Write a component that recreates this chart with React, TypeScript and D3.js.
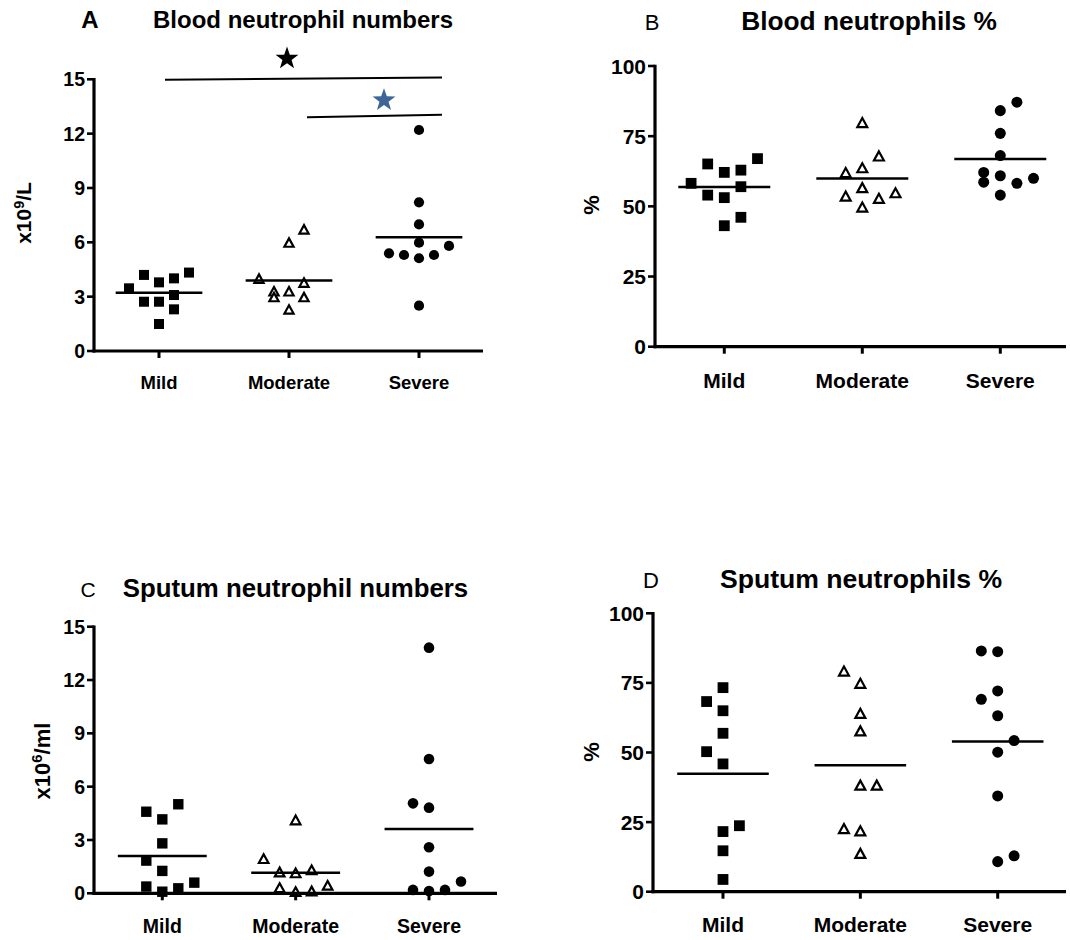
import React from "react";
import * as d3 from "d3";

// ---------- DATA ----------
const categories = ["Mild", "Moderate", "Severe"];

// A: Blood neutrophil numbers (x10^9/L)
const bloodCountMild = [3.46, 4.2, 3.79, 4.01, 4.33, 3.09, 2.72, 2.72, 2.3, 1.49];
const bloodCountModerate = [3.96, 3.26, 2.94, 3.26, 3.74, 2.94, 2.26, 5.95, 6.68];
const bloodCountSevere = [12.2, 8.21, 6.99, 5.98, 5.39, 5.3, 5.12, 5.3, 5.8, 2.5];
const bloodCountTicks = [0, 3, 6, 9, 12, 15];

// B: Blood neutrophils %
const bloodPctMild = [58.2, 65.1, 62.1, 62.9, 67.0, 54.0, 53.1, 57.0, 46.1, 43.1];
const bloodPctModerate = [79.6, 67.7, 63.5, 61.8, 56.4, 53.4, 52.6, 54.6, 49.5];
const bloodPctSevere = [87.1, 84.1, 76.0, 68.1, 62.1, 60.9, 58.6, 58.2, 60.0, 54.0];
const pctTicks = [0, 25, 50, 75, 100];

// C: Sputum neutrophil numbers (x10^6/ml)
const sputumCountMild = [4.59, 4.16, 5.01, 2.81, 1.84, 1.26, 0.38, 0.09, 0.28, 0.6];
const sputumCountModerate = [4.09, 1.91, 1.16, 1.11, 1.28, 0.28, 0.06, 0.09, 0.41];
const sputumCountSevere = [13.82, 7.56, 5.06, 4.82, 2.59, 1.22, 0.19, 0.13, 0.19, 0.66];
const sputumCountTicks = [0, 3, 6, 9, 12, 15];

// D: Sputum neutrophils %
const sputumPctMild = [73.3, 68.3, 65.0, 56.9, 50.3, 45.9, 23.7, 21.6, 14.7, 4.4];
const sputumPctModerate = [79.0, 74.6, 63.8, 57.5, 38.0, 38.0, 22.4, 21.6, 13.5];
const sputumPctSevere = [86.5, 86.2, 69.1, 72.1, 63.2, 54.3, 50.1, 34.4, 10.8, 12.9];

// Significance annotations in panel A
const sigLines = [
  { from: "Mild", to: "Severe", y0: 14.97, y1: 15.1, star: 16.2, color: "#000000" },
  { from: "Moderate", to: "Severe", y0: 12.9, y1: 13.04, star: 13.9, color: "#3d6597" },
];

// ---------- LAYOUT (horizontal spread columns) ----------
const spreadA = [
  [-2, -1, 0, 1, 2, 1, -1, 0, 1, 0],
  [-2, -1, -1, 0, 1, 1, 0, 0, 1],
  [0, 0, 0, 0, -2, -1, 0, 1, 2, 0],
];
const spreadB = [
  [-2, -1, 0, 1, 2, -1, 0, 1, 1, 0],
  [0, 1, 0, -1, 0, -1, 1, 2, 0],
  [1, 0, 0, 0, -1, 0, -1, 1, 2, 0],
];
const spreadC = [
  [-1, 0, 1, 0, -1, 0, -1, 0, 1, 2],
  [0, -2, -1, 0, 1, -1, 0, 1, 2],
  [0, 0, -1, 0, 0, 0, -1, 0, 1, 2],
];
const spreadD = [
  [0, -1, 0, 0, -1, 0, 1, 0, 0, 0],
  [-1, 0, 0, 0, 0, 1, -1, 0, 0],
  [-1, 0, -1, 0, 0, 1, 0, 0, 0, 1],
];

const FONT = "'Liberation Sans', Arial, Helvetica, sans-serif";

type Panel = {
  letter: string;
  letterBold: boolean;
  letterX: number;
  letterSize: number;
  title: string;
  titleX: number;
  titleY: number;
  titleSize: number;
  axisX: number;
  yTop: number;
  yBot: number;
  xEnd: number;
  firstCat: number;
  lastCat: number;
  step: number;
  ticks: number[];
  yMax: number;
  tickSize: number;
  catSize: number;
  catY: number;
  yLabel: React.ReactNode;
  yLabelX: number;
  yLabelY: number;
  yLabelSize: number;
  groups: number[][];
  spread: number[][];
  markerScale: number;
  sig?: boolean;
};

const supLabel = (base: string, sup: string, rest: string) => (
  <>
    {base}
    <tspan fontSize="0.68em" dy="-0.5em">{sup}</tspan>
    <tspan dy="0.34em">{rest}</tspan>
  </>
);

const panels: Panel[] = [
  {
    letter: "A", letterBold: true, letterX: 90, letterSize: 24,
    title: "Blood neutrophil numbers", titleX: 303, titleY: 27.5, titleSize: 24,
    axisX: 94, yTop: 79.3, yBot: 351, xEnd: 483, firstCat: 159, lastCat: 419, step: 15,
    ticks: bloodCountTicks, yMax: 15, tickSize: 19.5, catSize: 18.5, catY: 388.5,
    yLabel: supLabel("x10", "9", "/L"), yLabelX: 31, yLabelY: 213, yLabelSize: 21,
    groups: [bloodCountMild, bloodCountModerate, bloodCountSevere], spread: spreadA,
    markerScale: 1, sig: true,
  },
  {
    letter: "B", letterBold: false, letterX: 652, letterSize: 22,
    title: "Blood neutrophils %", titleX: 869, titleY: 30, titleSize: 26.3,
    axisX: 655, yTop: 66, yBot: 346.7, xEnd: 1066, firstCat: 724.3, lastCat: 1000.3, step: 16.6,
    ticks: pctTicks, yMax: 100, tickSize: 21, catSize: 21, catY: 388.3,
    yLabel: "%", yLabelX: 599, yLabelY: 205, yLabelSize: 22,
    groups: [bloodPctMild, bloodPctModerate, bloodPctSevere], spread: spreadB,
    markerScale: 1.08,
  },
  {
    letter: "C", letterBold: false, letterX: 88, letterSize: 21,
    title: "Sputum neutrophil numbers", titleX: 295.5, titleY: 597, titleSize: 25.8,
    axisX: 94, yTop: 626.7, yBot: 893.3, xEnd: 497, firstCat: 162.3, lastCat: 429, step: 16,
    ticks: sputumCountTicks, yMax: 15, tickSize: 19.5, catSize: 19.5, catY: 933,
    yLabel: supLabel("x10", "6", "/ml"), yLabelX: 49.5, yLabelY: 761, yLabelSize: 22,
    groups: [sputumCountMild, sputumCountModerate, sputumCountSevere], spread: spreadC,
    markerScale: 1.04,
  },
  {
    letter: "D", letterBold: false, letterX: 651, letterSize: 22,
    title: "Sputum neutrophils %", titleX: 861, titleY: 588, titleSize: 26.6,
    axisX: 653, yTop: 613.3, yBot: 891.7, xEnd: 1066, firstCat: 723, lastCat: 997.7, step: 16.4,
    ticks: pctTicks, yMax: 100, tickSize: 21, catSize: 21, catY: 931.5,
    yLabel: "%", yLabelX: 599, yLabelY: 752, yLabelSize: 22,
    groups: [sputumPctMild, sputumPctModerate, sputumPctSevere], spread: spreadD,
    markerScale: 1.08,
  },
];

function starPath(cx: number, cy: number, R: number) {
  const r = R * 0.4;
  const pts: string[] = [];
  for (let i = 0; i < 10; i++) {
    const a = -Math.PI / 2 + (i * Math.PI) / 5;
    const rad = i % 2 === 0 ? R : r;
    pts.push(`${cx + rad * Math.cos(a)},${cy + rad * Math.sin(a)}`);
  }
  return "M" + pts.join("L") + "Z";
}

function Marker({ kind, x, y, s }: { kind: number; x: number; y: number; s: number }) {
  if (kind === 0) {
    const w = 10 * s;
    return <rect x={x - w / 2} y={y - w / 2} width={w} height={w} fill="#000" />;
  }
  if (kind === 1) {
    const w = 9.2 * s;
    const h = 8.4 * s;
    const d = `M${x},${y - h * 0.58}L${x + w / 2},${y + h * 0.42}L${x - w / 2},${y + h * 0.42}Z`;
    return <path d={d} fill="#fff" stroke="#000" strokeWidth={2.2} strokeLinejoin="miter" />;
  }
  return <circle cx={x} cy={y} r={5.1 * s} fill="#000" />;
}

function PanelView({ p }: { p: Panel }) {
  const y = d3.scaleLinear().domain([0, p.yMax]).range([p.yBot, p.yTop]);
  const x = d3.scalePoint<string>().domain(categories).range([p.firstCat, p.lastCat]);
  const spacing = (p.lastCat - p.firstCat) / 2;
  const half = spacing / 3;
  return (
    <g fontFamily={FONT}>
      <text x={p.letterX} y={p.titleY} textAnchor="middle" fontSize={p.letterSize}
        fontWeight={p.letterBold ? "bold" : "normal"}>{p.letter}</text>
      <text x={p.titleX} y={p.titleY} textAnchor="middle" fontSize={p.titleSize} fontWeight="bold">{p.title}</text>

      <text transform={`translate(${p.yLabelX},${p.yLabelY}) rotate(-90)`} textAnchor="middle"
        fontSize={p.yLabelSize} fontWeight="bold">{p.yLabel}</text>

      {p.groups.map((vals, gi) => {
        const cx = x(categories[gi]) as number;
        const mean = d3.mean(vals) as number;
        return (
          <g key={gi}>
            {vals.map((v, i) => (
              <Marker key={i} kind={gi} x={cx + p.spread[gi][i] * p.step} y={y(v)} s={p.markerScale} />
            ))}
            <line x1={cx - half} x2={cx + half} y1={y(mean)} y2={y(mean)} stroke="#000" strokeWidth={2.5} />
          </g>
        );
      })}

      <line x1={p.axisX} x2={p.axisX} y1={p.yTop - 1.2} y2={p.yBot + 1.5} stroke="#000" strokeWidth={3.2} />
      <line x1={p.axisX - 1.5} x2={p.xEnd} y1={p.yBot} y2={p.yBot} stroke="#000" strokeWidth={3.2} />
      {p.ticks.map((t) => (
        <g key={t}>
          <line x1={p.axisX - 7} x2={p.axisX} y1={y(t)} y2={y(t)} stroke="#000" strokeWidth={2.6} />
          <text x={p.axisX - 9} y={y(t)} dy="0.36em" textAnchor="end" fontSize={p.tickSize} fontWeight="bold">{t}</text>
        </g>
      ))}
      {categories.map((c) => (
        <g key={c}>
          <line x1={x(c) as number} x2={x(c) as number} y1={p.yBot} y2={p.yBot + 7} stroke="#000" strokeWidth={3} />
          <text x={x(c) as number} y={p.catY} textAnchor="middle" fontSize={p.catSize} fontWeight="bold">{c}</text>
        </g>
      ))}

      {p.sig &&
        sigLines.map((s, i) => {
          const x0 = (x(s.from) as number) + (i === 0 ? 6 : 18);
          const x1 = (x(s.to) as number) + 23;
          const sx = i === 0 ? (x("Moderate") as number) - 2 : (x("Severe") as number) - 35;
          return (
            <g key={i}>
              <line x1={x0} x2={x1} y1={y(s.y0)} y2={y(s.y1)} stroke="#000" strokeWidth={2} />
              <path d={starPath(sx, y(s.star) + 1, 12)} fill={s.color} />
            </g>
          );
        })}
    </g>
  );
}

export default function App() {
  return (
    <svg width={1070} height={940} viewBox="0 0 1070 940"
      style={{ position: "absolute", left: 0, top: 0, background: "#fff", display: "block" }}>
      <rect width={1070} height={940} fill="#fff" />
      {panels.map((p) => (
        <PanelView key={p.letter} p={p} />
      ))}
    </svg>
  );
}
